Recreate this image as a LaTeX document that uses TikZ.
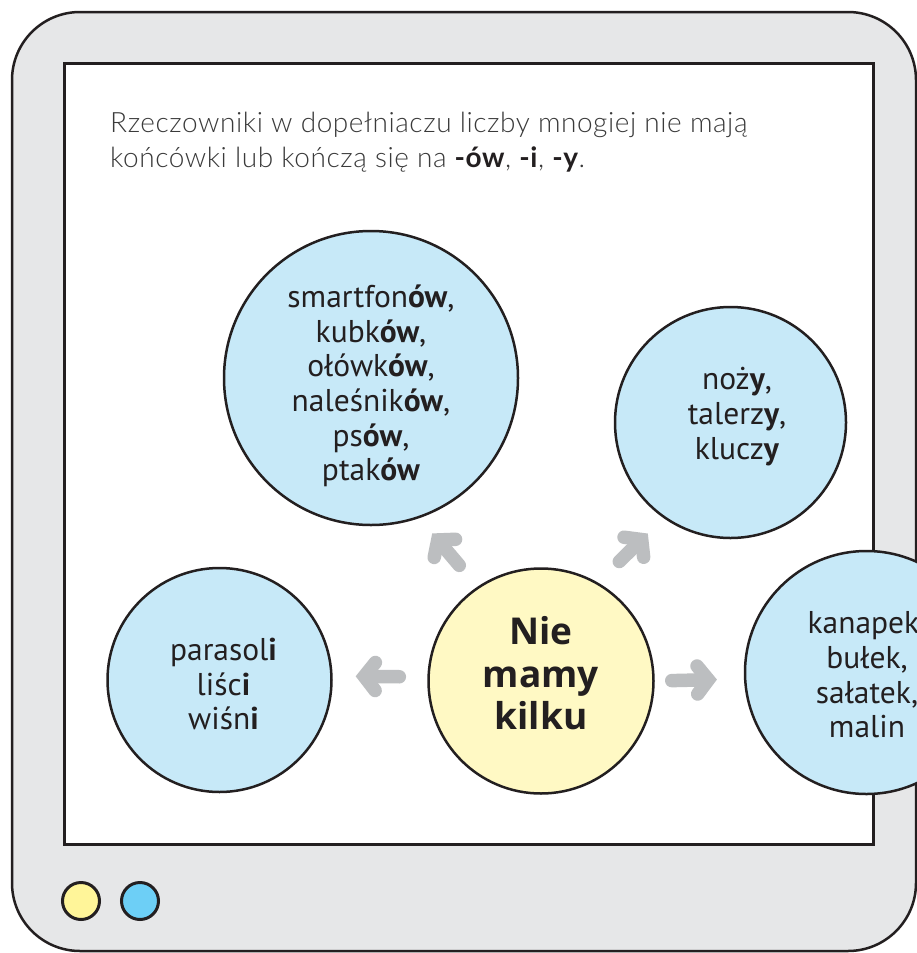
\documentclass[tikz,border=0pt]{standalone}
\usepackage{fontspec}
\setmainfont{PT Sans}
\newfontfamily\hdrfont{Lato Light}[BoldFont={Lato Bold}, LetterSpace=2]
\newfontfamily\centerfont{Open Sans}
\usetikzlibrary{arrows.meta}
\definecolor{framegray}{HTML}{E6E7E8}
\definecolor{ink}{HTML}{231F20}
\definecolor{headink}{HTML}{3A3A3A}
\definecolor{bluefill}{HTML}{C7E9F8}
\definecolor{yellowfill}{HTML}{FFF9C4}
\definecolor{arrowgray}{HTML}{BCBEC0}
\definecolor{dotyellow}{HTML}{FFF599}
\definecolor{dotblue}{HTML}{6DCFF6}
\tikzset{
  framebox/.style={draw=ink, line width=2.5pt, fill=framegray, rounded corners=68pt},
  screenbox/.style={draw=ink, line width=3pt, fill=white},
  bluecirc/.style={circle, draw=ink, line width=2.5pt, fill=bluefill, inner sep=0pt},
  yellowcirc/.style={circle, draw=ink, line width=2.5pt, fill=yellowfill, inner sep=0pt},
  dotcirc/.style={circle, draw=ink, line width=3pt, inner sep=0pt, minimum size=37pt},
  ctext/.style={align=center, text=ink, inner sep=0pt, font=\fontsize{31.5pt}{34.6pt}\selectfont},
  centertext/.style={align=center, text=ink, inner sep=0pt, font=\centerfont\fontsize{37pt}{42.5pt}\selectfont\bfseries},
  headtext/.style={anchor=base west, text=headink, inner sep=0pt, font=\hdrfont\fontsize{28pt}{35pt}\selectfont},
  arr/.style={draw=arrowgray, line width=13.5pt, line cap=round,
    -{Straight Barb[line cap=round, line join=miter, length=11pt 0, width=28pt 0]}}
}
\begin{document}
\begin{tikzpicture}[x=1pt,y=-1pt]
\useasboundingbox (0,0) rectangle (916,953);
\draw[framebox] (12,12) rectangle (916,951);
\draw[screenbox] (64,63) rectangle (873,844);

\node[headtext] (head1) at (110,132) {Rzeczowniki w dopełniaczu liczby mnogiej nie mają};
\node[headtext] (head2) at (110,167) {końcówki lub kończą się na {\color{ink}\textbf{-ów}}, {\color{ink}\textbf{-i}}, {\color{ink}\textbf{-y}}.};

\node[bluecirc, minimum size=294pt] (tl) at (371,378) {};
\node[bluecirc, minimum size=231pt] (tr) at (730.5,422.5) {};
\node[bluecirc, minimum size=224pt] (l) at (219.5,680) {};
\node[bluecirc, minimum size=243pt] (r) at (866.5,672.5) {};
\node[yellowcirc, minimum size=225pt] (c) at (541,681) {};

\node[ctext] (tltext) at (371,386) {smartfon\textbf{ów},\\kubk\textbf{ów},\\ołówk\textbf{ów},\\naleśnik\textbf{ów},\\ps\textbf{ów},\\ptak\textbf{ów}};
\node[ctext] (trtext) at (737,416.5) {noż\textbf{y},\\talerz\textbf{y},\\klucz\textbf{y}};
\node[ctext] (ltext) at (223.5,684) {parasol\textbf{i}\\liśc\textbf{i}\\wiśn\textbf{i}};
\node[ctext] (rtext) at (867,675) {kanapek,\\bułek,\\sałatek,\\malin};
\node[centertext] (ctxt) at (541,673.5) {Nie\\mamy\\kilku};

\draw[arr, shorten <=28pt, shorten >=23pt] (c.178) -- (l.2);
\draw[arr, shorten <=17pt, shorten >=27pt] (c.0.5) -- (r.183.5);
\draw[arr, shorten <=28pt, shorten >=20pt] (c.124) -- (tl.-71);
\draw[arr, shorten <=30pt, shorten >=22pt] (c.60.4) -- (tr.-125.5);

\node[dotcirc, fill=dotyellow] (dot1) at (81,901) {};
\node[dotcirc, fill=dotblue] (dot2) at (140,901) {};
\end{tikzpicture}
\end{document}
